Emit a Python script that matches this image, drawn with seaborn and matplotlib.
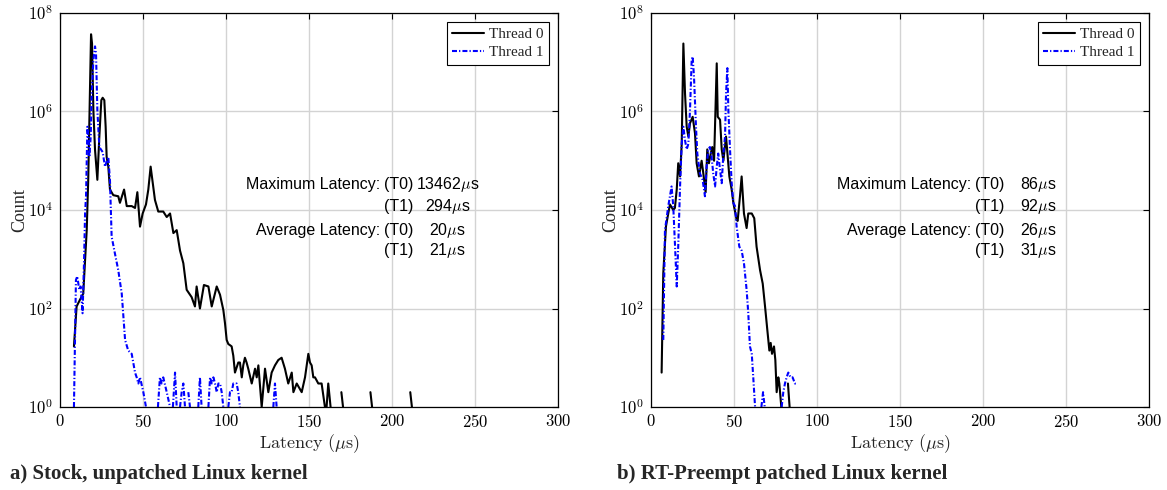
import numpy as np
import pandas as pd
import matplotlib
matplotlib.use("Agg")
import matplotlib.pyplot as plt
from matplotlib.lines import Line2D
from matplotlib.ticker import FixedLocator, FuncFormatter, NullLocator
import seaborn as sns

# ---------------- data ----------------
series_names = ["Thread 0", "Thread 1"]
x_ticks = [0, 50, 100, 150, 200, 250, 300]
y_ticks = [1, 1e2, 1e4, 1e6, 1e8]

# a) stock kernel, thread 0 (latency in us, count)
lat_a_t0 = [8.4, 10, 12, 14, 15.1, 16.1, 17.0, 18.7, 19.3, 20.1,
            21.1, 22.5, 23.7, 24.9, 25.7, 26.7, 27.5, 28.1, 29.1, 30.1,
            32.1, 35.1, 36.1, 38.6, 40.2, 43.2, 45.2, 46.6, 48.2, 49.8,
            51.8, 53.2, 54.6, 57.2, 59.2, 62.2, 64.3, 66.3, 68.3, 70.3,
            72.3, 74.3, 76.3, 79.3, 81.3, 82.3, 84.3, 86.7, 89.4, 91.4,
            94.4, 96.4, 98.4, 99.4, 100.4, 101.4, 102.4, 103.4, 104.4, 105.4,
            107.4, 108.4, 109.5, 110.4, 111.4, 112.4, 113.4, 115.5, 117.5, 118.5,
            119.5, 121.5, 123.5, 125.5, 127.5, 129.5, 131.5, 133.5, 135.5, 137.5,
            139.6, 140.6, 142.6, 145.6, 147.6, 149.6, 150.6, 151.6, 152.6, 153.6,
            155.6, 157.6, 159.6, 160.6, 161.6, 163, 164, 169.5, 170.5, 171.5,
            187.0, 188.0, 189.0, 211.0, 212.0, 213.0]
cnt_a_t0 = [17, 110, 150, 200, 950, 3900, 4.1e4, 3.7e7, 2.4e7, 1.07e6,
            1.66e5, 4.1e4, 3.1e5, 1.7e6, 1.9e6, 1.7e6, 4.9e5, 1.2e5, 7.6e4, 2.6e4,
            2.0e4, 1.9e4, 1.4e4, 2.6e4, 1.2e4, 1.2e4, 1.1e4, 2.3e4, 4600, 8500,
            1.3e4, 2.6e4, 7.6e4, 1.6e4, 9300, 9300, 7200, 8500, 3400, 3900,
            1500, 830, 240, 170, 110, 280, 100, 300, 280, 110,
            280, 190, 93, 50, 23, 19, 18, 17, 11, 5,
            8, 8, 4, 7, 10, 8, 6, 3, 6, 4,
            7, 1, 6, 2, 5, 7, 9, 10, 6, 3,
            5, 2, 3, 2, 4, 12, 8, 7, 4, 4,
            3, 3, 1, 1, 3, 1, 0, 2, 1, 0,
            2, 1, 0, 2, 1, 0]

# a) stock kernel, thread 1
lat_a_t1 = [8.4, 9.6, 10.4, 11.6, 12.4, 13.6, 14.5, 15.1, 15.7, 16.5,
            17.1, 17.7, 18.5, 19.1, 20.1, 21.1, 21.7, 22.5, 23.7, 25.7,
            27.1, 29.1, 30.1, 31.1, 33.1, 35.1, 37.2, 39.2, 41.1, 43.2,
            45.2, 46.2, 47.2, 48.2, 50.2, 51.8, 53, 54, 55, 59,
            60.2, 61.2, 62.2, 64.3, 66.3, 67, 68, 69.3, 70.3, 71,
            72.3, 73.3, 74.3, 75.3, 76.3, 77.3, 78.3, 79.3, 83.3, 84.3,
            85.3, 86.3, 89.4, 90.4, 91.4, 92.4, 93.4, 94.4, 95.4, 96.4,
            97.4, 98.4, 99.4, 100.4, 101.4, 102.4, 103.4, 104.4, 105.4, 106.4,
            107.4, 108.4, 109.4, 112.5, 113.5, 114.5, 121.5, 122.5, 123.5,
            128.5, 129.5, 130.5, 131.5]
cnt_a_t1 = [1, 380, 450, 240, 280, 80, 950, 8500, 2.0e4, 4.9e5,
            3.1e5, 1.2e5, 3.1e5, 2.3e6, 1.1e7, 2.1e7, 1.5e7, 1.07e6, 1.9e5, 1.5e5,
            7.6e4, 1.2e5, 4.0e4, 2900, 1300, 600, 200, 23, 14, 12,
            5, 4, 3, 4, 2, 1, 0, 1, 0, 1,
            4, 3, 4, 2, 1, 0, 1, 5, 1, 0,
            1, 2, 3, 1, 0, 2, 1, 0, 1, 4,
            1, 0, 1, 4, 3, 4, 3, 2, 3, 3,
            2, 1, 1, 0, 1, 2, 2, 3, 3, 3,
            2, 1, 0, 0, 1, 0, 0, 1, 0,
            1, 3, 1, 0]

# b) RT-Preempt kernel, thread 0
lat_b_t0 = [6.4, 7.4, 9.0, 10.4, 11.4, 13.4, 14.4, 15.5, 16.4, 17.5,
            18.5, 19.5, 20.5, 21.5, 22.5, 23.5, 25.1, 26.5, 27.5, 28.9,
            30.5, 31.5, 32.9, 33.9, 34.9, 36.0, 36.9, 38.0, 39.6, 40.2,
            41.6, 42.6, 43.6, 45.2, 47.2, 48.6, 49.6, 51.6, 52.2, 53.6,
            54.6, 56.0, 57.6, 58.6, 60.7, 62.2, 63.6, 65.7, 67.3, 68.7,
            70.1, 71.3, 72.1, 72.9, 74.1, 74.9, 75.7, 76.7, 77.3, 78.5,
            79.5, 82.5, 83.5, 84.5]
cnt_b_t0 = [5, 520, 4600, 8500, 1.3e4, 1.0e4, 1.1e4, 2.6e4, 8.9e4, 4.8e4,
            2.2e5, 2.4e7, 2.3e6, 4.9e5, 3.1e5, 5.8e5, 7.8e5, 3.6e5, 8.9e4, 4.8e4,
            1.0e5, 5.6e4, 2.3e4, 1.7e5, 8.9e4, 1.4e5, 1.9e5, 1.0e5, 9.5e6, 7.8e5,
            6.8e5, 1.7e5, 1.0e5, 3.1e5, 4.8e4, 2.6e4, 1.4e4, 6300, 6000, 1.9e4,
            4.8e4, 8500, 4300, 8500, 8500, 6800, 1800, 600, 320, 110,
            36, 14, 20, 12, 17, 9, 2, 4, 3, 1,
            0, 3, 1, 0]

# b) RT-Preempt kernel, thread 1
lat_b_t1 = [7.4, 8.4, 9.5, 10.4, 11.4, 12.4, 13.4, 14.5, 15.5, 16.4,
            17.5, 18.5, 19.5, 20.5, 21.5, 22.5, 23.5, 24.5, 25.1, 25.9,
            27.1, 27.9, 29.5, 31.1, 32.5, 33.5, 34.5, 35.5, 36.5, 37.5,
            38.6, 39.6, 40.5, 41.6, 42.6, 43.6, 44.6, 45.2, 46.0, 46.6,
            47.6, 48.6, 49.6, 50.6, 51.6, 53.2, 54.6, 56.0, 57.6, 58.6,
            59.6, 60.7, 61.6, 62.7, 63.7, 66.5, 67.5, 68.5, 69.5, 78.7,
            79.7, 80.7, 81.7, 82.7, 84.1, 85.3, 86.7, 87.7]
cnt_b_t1 = [23, 3900, 7200, 1.2e4, 1.9e4, 3.0e4, 1.2e4, 1800, 280, 1800,
            3.0e4, 2.2e5, 4.9e5, 2.6e5, 1.7e5, 2.2e5, 1.07e6, 1.1e7, 1.3e7, 5.1e6,
            4.9e5, 1.4e5, 5.5e4, 4.1e4, 1.9e4, 7.6e4, 1.7e5, 1.9e5, 1.2e5, 5.5e4,
            3.0e4, 7.6e4, 1.4e5, 6.5e4, 3.5e4, 1.4e5, 3.1e5, 2.3e6, 7.6e6, 1.07e6,
            1.7e5, 3.5e4, 1.4e4, 1.2e4, 4600, 1800, 1500, 830, 240, 80,
            17, 12, 4, 1, 0, 1, 2, 1, 0, 1,
            2, 3, 4, 5, 4, 4, 3, 3]

# statistics text
stat_labels = ["Maximum Latency:", "", "Average Latency:", ""]
stat_tags = ["(T0)", "(T1)", "(T0)", "(T1)"]
stats_a = [13462, 294, 20, 21]
stats_b = [86, 92, 26, 31]

captions = ["a) Stock, unpatched Linux kernel", "b) RT-Preempt patched Linux kernel"]

for a, b in [(lat_a_t0, cnt_a_t0), (lat_a_t1, cnt_a_t1), (lat_b_t0, cnt_b_t0), (lat_b_t1, cnt_b_t1)]:
    assert len(a) == len(b), (len(a), len(b))

# ---------------- style ----------------
sns.set_theme(style="white")
plt.rcParams.update({
    "font.family": ["Liberation Serif", "DejaVu Serif"],
    "mathtext.fontset": "cm",
    "axes.edgecolor": "black",
    "axes.linewidth": 0.8,
    "axes.facecolor": "white",
    "figure.facecolor": "white",
})

DASHDOT = (0, (2.4, 1.0, 0.6, 1.0))
LW = 1.5
styles = [("black", "-"), ((0, 0, 1), DASHDOT)]


def draw_series(ax, lat, cnt, color, ls):
    df = pd.DataFrame({"latency": lat, "count": cnt})
    df["seg"] = (df["count"] == 0).cumsum()
    df = df[df["count"] > 0]
    sns.lineplot(data=df, x="latency", y="count", units="seg", estimator=None,
                 sort=False, color=color, linestyle=ls, linewidth=LW,
                 ax=ax, legend=False)


def style_axes(ax):
    ax.set_xlim(0, 300)
    ax.set_ylim(1, 1e8)
    ax.xaxis.set_major_locator(FixedLocator(x_ticks))
    ax.yaxis.set_major_locator(FixedLocator(y_ticks))
    ax.yaxis.set_minor_locator(NullLocator())
    ax.xaxis.set_minor_locator(NullLocator())
    ax.xaxis.set_major_formatter(FuncFormatter(lambda v, p: f"${v:g}$"))
    ax.yaxis.set_major_formatter(
        FuncFormatter(lambda v, p: f"$10^{{{int(round(np.log10(v)))}}}$"))
    ax.set_axisbelow(True)
    ax.grid(True, color="#d3d3d3", linewidth=1.0)
    ax.tick_params(direction="in", top=True, right=True, length=4, width=0.8,
                   labelsize=12, pad=5, colors="black")
    for s in ax.spines.values():
        s.set_visible(True)
        s.set_color("black")
        s.set_linewidth(0.9)
    ax.set_xlabel(r"$\mathrm{Latency}\ (\mu\mathrm{s})$", fontsize=13, labelpad=1)
    ax.set_ylabel("Count", fontsize=13, labelpad=0)
    handles = [Line2D([], [], color=c, linestyle=l, linewidth=LW) for c, l in styles]
    leg = ax.legend(handles, series_names, loc="upper right", frameon=True,
                    fancybox=False, edgecolor="black", framealpha=1, fontsize=11,
                    handlelength=2.1, handletextpad=0.3, labelspacing=0.3,
                    borderpad=0.35, borderaxespad=0.6)
    leg.get_frame().set_linewidth(0.8)


def add_stats(ax, stats):
    rows_y = [0.5635, 0.510, 0.449, 0.398]
    for lab, tag, val, y in zip(stat_labels, stat_tags, stats, rows_y):
        kw = dict(transform=ax.transAxes, fontsize=11.5, va="center",
                  family=["Liberation Sans", "DejaVu Sans"], color="black")
        if lab:
            ax.text(0.643, y, lab, ha="right", **kw)
        ax.text(0.651, y, tag, ha="left", **kw)
        ax.text(0.778, y, f"{val}$\\mu$s", ha="center", **kw)


fig = plt.figure(figsize=(11.67, 4.90), dpi=100)
ax_a = fig.add_axes([60 / 1167, 83 / 490, 498 / 1167, 394 / 490])
ax_b = fig.add_axes([651 / 1167, 83 / 490, 498 / 1167, 394 / 490])

for ax in (ax_a, ax_b):
    ax.set_yscale("log")

draw_series(ax_a, lat_a_t0, cnt_a_t0, *styles[0])
draw_series(ax_a, lat_a_t1, cnt_a_t1, *styles[1])
draw_series(ax_b, lat_b_t0, cnt_b_t0, *styles[0])
draw_series(ax_b, lat_b_t1, cnt_b_t1, *styles[1])

for ax in (ax_a, ax_b):
    style_axes(ax)

add_stats(ax_a, stats_a)
add_stats(ax_b, stats_b)

fig.text(10 / 1167, 1 - 474 / 490, captions[0], fontsize=15, fontweight="bold",
         ha="left", va="center", family=["Liberation Serif", "DejaVu Serif"])
fig.text(617 / 1167, 1 - 474 / 490, captions[1], fontsize=15, fontweight="bold",
         ha="left", va="center", family=["Liberation Serif", "DejaVu Serif"])

fig.savefig("out.png", dpi=100)
